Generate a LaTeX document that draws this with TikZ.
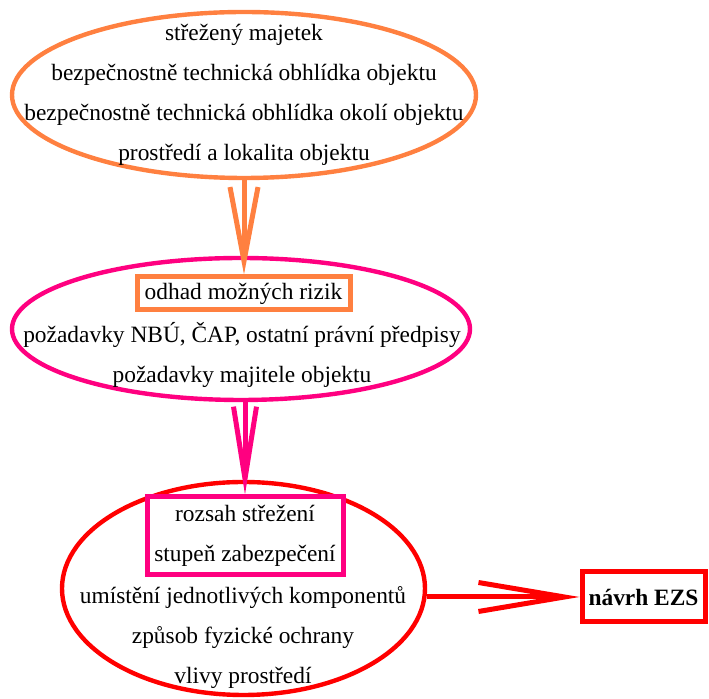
\documentclass[tikz,border=0pt]{standalone}
\usepackage{fontspec}
\setmainfont{Liberation Serif}
\usetikzlibrary{positioning, arrows.meta, shapes.geometric}
\definecolor{stageOrange}{RGB}{255,128,64}
\definecolor{stageMagenta}{RGB}{255,0,128}
\definecolor{stageRed}{RGB}{255,0,0}
\tikzset{
  % Stage ellipses
  stage/.style={
    draw, ellipse, line width=2.2pt, inner sep=0pt
  },
  % Text lines inside a stage
  stagetext/.style={
    align=center, inner sep=0pt,
    font=\fontsize{11.7}{20}\selectfont
  },
  % Highlighted boxes
  keybox/.style={
    draw, rectangle, line width=2.5pt, fill=white, align=center,
    inner sep=0pt, font=\fontsize{11.7}{20}\selectfont
  },
  % Flow arrows
  flow/.style={
    line width=2.5pt
  },
}

\begin{document}
\begin{tikzpicture}[x=0.5pt, y=-0.5pt]
  \useasboundingbox (0,0) rectangle (709,699);

  %% ── Stages ──
  \node[stage, draw=stageOrange, minimum width=232pt, minimum height=83pt] (majetek) at (244,95) {};
  \node[stage, draw=stageMagenta, minimum width=229pt, minimum height=71pt] (pozadavky) at (241,329) {};
  \node[stage, draw=stageRed, minimum width=181.5pt, minimum height=106.5pt] (opatreni) at (243.5,588.5) {};

  %% ── Texts ──
  \node[stagetext] (majetekText) at (244,95)
    {střežený majetek\\
     bezpečnostně technická obhlídka objektu\\
     bezpečnostně technická obhlídka okolí objektu\\
     prostředí a lokalita objektu};
  \node[stagetext] (pozadavkyText) at (242,355)
    {požadavky NBÚ, ČAP, ostatní právní předpisy\\
     požadavky majitele objektu};
  \node[stagetext] (opatreniText) at (243,638)
    {umístění jednotlivých komponentů\\
     způsob fyzické ochrany\\
     vlivy prostředí};

  %% ── Boxes ──
  \node[keybox, draw=stageOrange, minimum width=106.5pt, minimum height=16.5pt] (rizika) at (243.5,293.5) {odhad možných rizik};
  \node[keybox, draw=stageMagenta, minimum width=98pt, minimum height=39pt] (rozsah) at (245,536)
    {rozsah střežení\\stupeň zabezpečení};
  \node[keybox, draw=stageRed, font=\fontsize{11.7}{20}\selectfont\bfseries,
        minimum width=61.5pt, minimum height=25pt] (navrh) at (643.5,597) {návrh EZS};

  %% ── Flow ──
  \draw[flow, draw=stageOrange, -{Straight Barb[length=37pt, width=14pt]}]
    (majetek.south) -- (majetek.south |- rizika.north);
  \draw[flow, draw=stageMagenta, -{Straight Barb[length=36pt, width=11.5pt]}]
    (rozsah.north |- pozadavky.south) -- (rozsah.north);
  \draw[flow, draw=stageRed, -{Straight Barb[length=43pt, width=14.5pt]}]
    (navrh.west -| opatreni.east) -- (navrh.west);

\end{tikzpicture}
\end{document}
